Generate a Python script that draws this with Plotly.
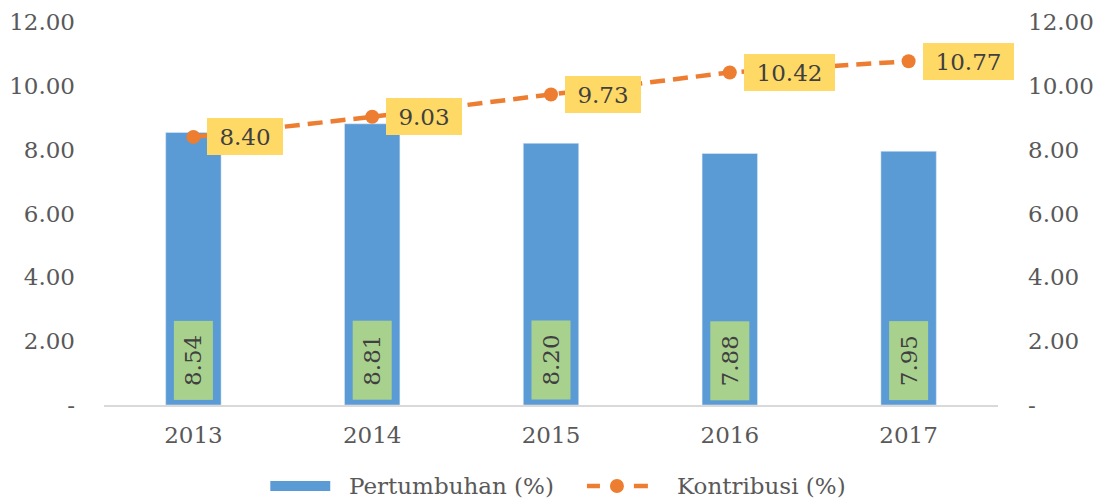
import plotly.graph_objects as go

years = ["2013", "2014", "2015", "2016", "2017"]
pertumbuhan = [8.54, 8.81, 8.20, 7.88, 7.95]
kontribusi = [8.40, 9.03, 9.73, 10.42, 10.77]
tick_vals = [0, 2, 4, 6, 8, 10, 12]
tick_text = ["-", "2.00", "4.00", "6.00", "8.00", "10.00", "12.00"]
names = ["Pertumbuhan (%)", "Kontribusi (%)"]

FONT = "DejaVu Serif"
FS = 23
BLUE = "#5B9BD5"
ORANGE = "#ED7D31"
GREEN = "#A9D18E"
YELLOW = "#FFD966"
TICK = "#595959"
LABEL = "#404040"

# page body has an 8px margin, so the figure is drawn 8px in from the corner
OFF = 8
W, H = 1103 - OFF, 498 - OFF
L, R, T, B = 103.5 - OFF, 104.5, 22 - OFF, 93
PW, PH = W - L - R, H - T - B


def px(page_x):
    return (page_x - OFF - L) / PW


def py(page_y):
    return (H - B - (page_y - OFF)) / PH


fig = go.Figure()
fig.add_trace(go.Bar(x=years, y=pertumbuhan, name=names[0],
                     marker_color=BLUE, width=0.31, yaxis="y"))
fig.add_trace(go.Scatter(x=years, y=kontribusi, name=names[1],
                         mode="lines+markers", yaxis="y2",
                         line=dict(color=ORANGE, width=4.5, dash="15px,8px"),
                         marker=dict(color=ORANGE, size=14)))

annotations = []
for i, v in enumerate(pertumbuhan):
    annotations.append(dict(x=i, y=0, xref="x", yref="y", text=f"{v:.2f}",
                            textangle=-90, showarrow=False, yanchor="bottom",
                            xanchor="center", yshift=5, width=79, height=39,
                            bgcolor=GREEN, borderpad=0, borderwidth=0,
                            font=dict(family=FONT, size=FS, color=LABEL)))
for i, v in enumerate(kontribusi):
    s = f"{v:.2f}"
    annotations.append(dict(x=i, y=v, xref="x", yref="y2", text=s,
                            showarrow=False, xanchor="left", yanchor="middle",
                            xshift=14, width=(91 if len(s) > 4 else 76), height=37,
                            bgcolor=YELLOW, borderpad=0, borderwidth=0,
                            font=dict(family=FONT, size=FS, color=LABEL)))

# custom legend
ly = 486
annotations.append(dict(x=px(347), y=py(ly), xref="paper", yref="paper", text=names[0],
                        showarrow=False, xanchor="left", yanchor="middle",
                        font=dict(family=FONT, size=FS, color=TICK)))
annotations.append(dict(x=px(675), y=py(ly), xref="paper", yref="paper", text=names[1],
                        showarrow=False, xanchor="left", yanchor="middle",
                        font=dict(family=FONT, size=FS, color=TICK)))
shapes = [
    dict(type="rect", xref="paper", yref="paper", x0=px(270), x1=px(330),
         y0=py(491), y1=py(481), fillcolor=BLUE, line=dict(width=0)),
    dict(type="line", xref="paper", yref="paper", x0=px(587), x1=px(600),
         y0=py(ly), y1=py(ly), line=dict(color=ORANGE, width=4.5)),
    dict(type="line", xref="paper", yref="paper", x0=px(634), x1=px(648),
         y0=py(ly), y1=py(ly), line=dict(color=ORANGE, width=4.5)),
    dict(type="circle", xref="paper", yref="paper", x0=px(610), x1=px(624),
         y0=py(ly + 7), y1=py(ly - 7), fillcolor=ORANGE, line=dict(width=0)),
]

fig.update_layout(
    width=W, height=H,
    margin=dict(l=L, r=R, t=T, b=B, autoexpand=False),
    paper_bgcolor="white", plot_bgcolor="white",
    font=dict(family=FONT, size=FS, color=TICK),
    showlegend=False,
    xaxis=dict(type="category", categoryorder="array", categoryarray=years,
               range=[-0.5, len(years) - 0.5], autorange=False, automargin=False,
               showgrid=False, showline=True, linecolor="#D9D9D9",
               linewidth=1.5, ticks="", ticklabelstandoff=9,
               tickfont=dict(family=FONT, size=FS, color=TICK)),
    yaxis=dict(range=[0, 12], autorange=False, automargin=False,
               tickvals=tick_vals, ticktext=tick_text,
               showgrid=False, zeroline=False, showline=False, ticks="",
               ticklabelstandoff=28, tickfont=dict(family=FONT, size=FS, color=TICK)),
    yaxis2=dict(range=[0, 12], autorange=False, automargin=False,
                tickvals=tick_vals, ticktext=tick_text,
                overlaying="y", side="right", showgrid=False, zeroline=False,
                showline=False, ticks="", ticklabelstandoff=29,
                tickfont=dict(family=FONT, size=FS, color=TICK)),
    annotations=annotations,
    shapes=shapes,
)

fig.write_html("out.html")
